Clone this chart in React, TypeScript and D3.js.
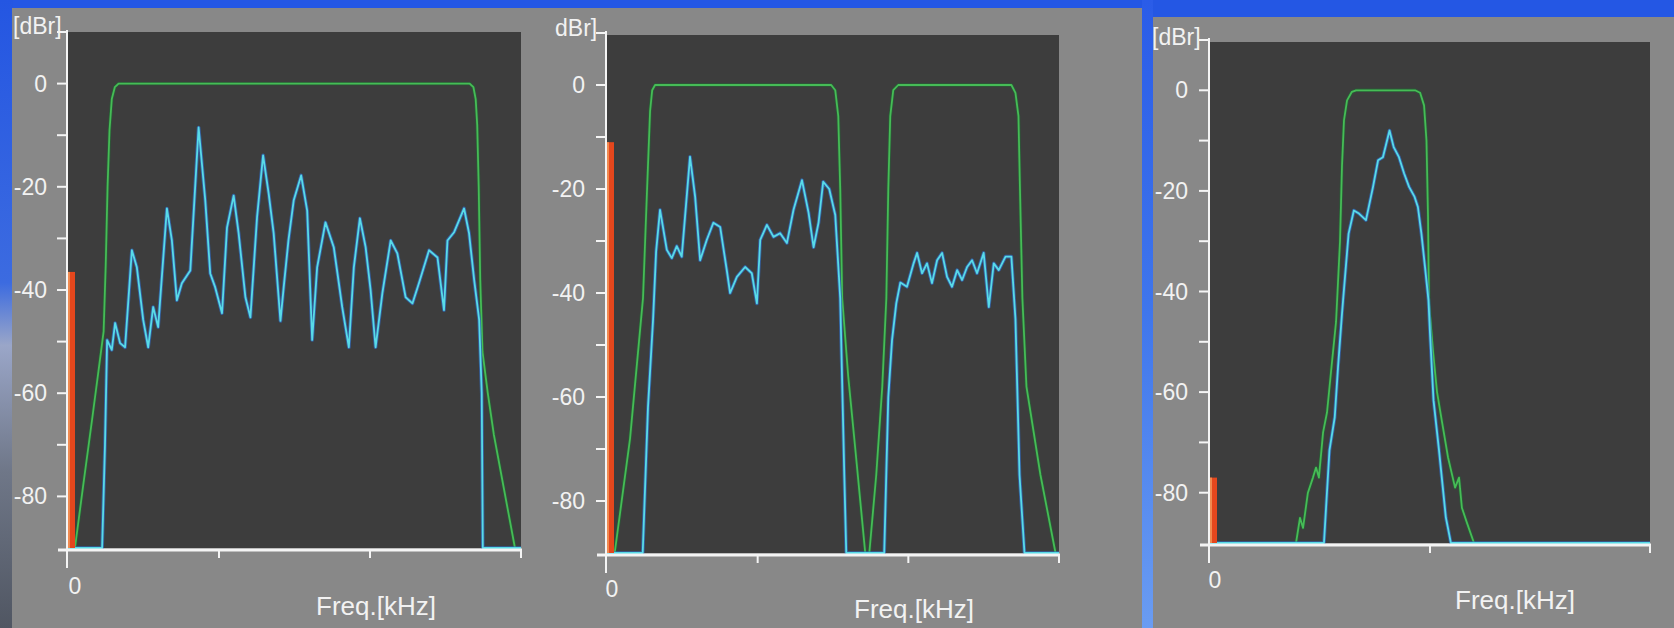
import React from 'react';
import * as d3 from 'd3';

// levels are dBr, frequency in kHz along each panel's own axis
const yTicks = [10, 0, -10, -20, -30, -40, -50, -60, -70, -80];
const yLabels = [0, -20, -40, -60, -80];

// panel 1 - one wide band
const p1Freq = [0, 0.226, 0.245, 0.259, 0.29, 0.312, 0.345, 0.378, 0.423, 0.456, 0.498, 0.531, 0.564, 0.597, 0.655, 0.688, 0.721, 0.754, 0.81, 0.865, 0.909, 0.942, 0.975, 1.02, 1.053, 1.097, 1.13, 1.175, 1.208, 1.252, 1.292, 1.329, 1.362, 1.407, 1.43, 1.46, 1.495, 1.544, 1.584, 1.617, 1.65, 1.705, 1.76, 1.816, 1.86, 1.893, 1.933, 1.971, 2.004, 2.037, 2.082, 2.137, 2.181, 2.236, 2.281, 2.324, 2.391, 2.447, 2.49, 2.513, 2.557, 2.623, 2.656, 2.69, 2.723, 2.74, 2.747, 3.0];
const p1Level = [-90, -90, -70, -49.7, -51.6, -46.4, -50.3, -51.1, -32.3, -35.6, -45.8, -51.1, -43.3, -47.2, -24.2, -30.4, -42, -38.7, -36.2, -8.5, -22.6, -36.8, -39.5, -44.5, -27.9, -21.7, -29, -41.4, -45.3, -25.9, -13.9, -21.3, -29, -46, -39, -30.4, -22.6, -17.8, -24.6, -49.7, -35.6, -26.9, -31.7, -43.3, -51.1, -35.6, -26.1, -31.7, -40, -51.1, -40.6, -30.4, -32.9, -41.4, -42.6, -38.7, -32.3, -33.7, -43.9, -30.4, -28.8, -24.2, -29, -38.1, -45.8, -60, -90, -90];
const p1MaskFreq = [0.046, 0.1, 0.16, 0.205, 0.236, 0.25, 0.262, 0.275, 0.29, 0.31, 0.335, 2.66, 2.685, 2.7, 2.71, 2.72, 2.73, 2.745, 2.78, 2.82, 2.89, 2.96];
const p1MaskLevel = [-90, -78, -65, -55, -48, -35, -20, -9, -3, -0.7, 0, 0, -0.7, -3, -8, -20, -38, -52, -60, -68, -79, -90];
const p1Marker = -36.5;

// panel 2 - two bands
const p2Freq = [0, 0.237, 0.272, 0.306, 0.326, 0.352, 0.397, 0.43, 0.463, 0.496, 0.551, 0.585, 0.618, 0.662, 0.706, 0.751, 0.795, 0.817, 0.862, 0.917, 0.961, 0.995, 1.017, 1.061, 1.105, 1.149, 1.194, 1.238, 1.294, 1.338, 1.371, 1.404, 1.435, 1.475, 1.515, 1.548, 1.575, 1.588, 1.84, 1.867, 1.892, 1.92, 1.947, 1.991, 2.035, 2.058, 2.091, 2.124, 2.157, 2.191, 2.224, 2.257, 2.29, 2.324, 2.357, 2.39, 2.423, 2.456, 2.5, 2.534, 2.567, 2.6, 2.645, 2.684, 2.711, 2.738, 2.771, 3.0];
const p2Level = [-90, -90, -62, -45, -32, -24, -31.7, -33.3, -31, -33, -13.8, -21.5, -33.7, -29.8, -26.5, -27.3, -35.6, -40, -36.9, -35, -36.2, -42, -29.8, -26.9, -29.2, -28.5, -30.4, -24, -18.3, -24.6, -31.2, -26.5, -18.6, -20, -25, -41, -75, -90, -90, -60, -49, -42, -38, -38.8, -34.3, -32.3, -36.2, -34.3, -38.1, -33.7, -32.3, -36.9, -38.8, -35.6, -37.5, -35, -33.7, -36.2, -32.3, -42.7, -34.3, -35.6, -33, -33, -45, -75, -90, -90];
const p2MaskFreq = [0.051, 0.153, 0.239, 0.266, 0.286, 0.3, 0.319, 1.488, 1.515, 1.535, 1.548, 1.561, 1.601, 1.648, 1.714, 1.741, 1.787, 1.827, 1.854, 1.867, 1.88, 1.9, 1.933, 2.684, 2.711, 2.731, 2.741, 2.757, 2.784, 2.877, 2.977];
const p2MaskLevel = [-90, -68, -41, -20, -5, -1, 0, 0, -1, -6, -20, -41, -56, -70, -90, -90, -75, -58, -41, -20, -6, -1, 0, 0, -1.5, -6, -20, -41, -58, -75, -90];
const p2Marker = -11;

// panel 3 - narrow band
const p3Freq = [0, 0.518, 0.543, 0.567, 0.582, 0.599, 0.605, 0.63, 0.654, 0.677, 0.709, 0.741, 0.764, 0.786, 0.816, 0.835, 0.859, 0.882, 0.905, 0.93, 0.945, 0.961, 0.977, 0.993, 1.0, 1.016, 1.041, 1.072, 1.095, 2.0];
const p3Level = [-90, -90, -71.6, -65, -55, -45, -41.7, -28.5, -23.9, -24.5, -25.8, -19.2, -13.9, -13.3, -8, -11.3, -13.3, -16.5, -19.2, -21.2, -23.2, -28.5, -35, -41.7, -48.3, -61.6, -71.6, -84.9, -90, -90];
const p3MaskFreq = [0.391, 0.409, 0.423, 0.445, 0.468, 0.482, 0.495, 0.514, 0.532, 0.55, 0.573, 0.591, 0.6, 0.609, 0.623, 0.645, 0.664, 0.932, 0.955, 0.973, 0.984, 0.991, 0.995, 1.014, 1.032, 1.055, 1.082, 1.114, 1.132, 1.145, 1.168, 1.2];
const p3MaskLevel = [-90, -85, -87, -80, -77, -75, -77, -68, -64, -56, -46, -30, -15, -6, -2, -0.3, 0, 0, -0.5, -3, -10, -25, -42, -52, -60, -66, -73, -79, -77, -83, -86, -90];
const p3Marker = -77;

const FONT = '"Liberation Sans", Arial, sans-serif';
const TXT = '#f2f2f2';

type Cfg = {
  left: number; right: number; top: number; scaleTop: number; bottom: number;
  xMax: number; xTicks: number[];
  freq: number[]; level: number[]; maskFreq: number[]; maskLevel: number[]; marker: number;
  unit: string; unitX: number; unitY: number; labelRight: number;
  zeroX: number; zeroY: number; freqX: number; freqY: number;
};

function Panel({ c }: { c: Cfg }) {
  const x = d3.scaleLinear().domain([0, c.xMax]).range([c.left, c.right]);
  const y = d3.scaleLinear().domain([-90, 10]).range([c.bottom, c.scaleTop]);
  const line = d3.line<[number, number]>().x(d => x(d[0])).y(d => y(d[1]));
  const trace = line(d3.zip(c.freq, c.level) as [number, number][]) || '';
  const mask = line(d3.zip(c.maskFreq, c.maskLevel) as [number, number][]) || '';
  const ax = c.left - 1;

  return (
    <g>
      <rect x={c.left} y={c.top} width={c.right - c.left} height={c.bottom - c.top} fill="#3d3d3d" />
      <path d={mask} fill="none" stroke="#1f6e34" strokeWidth={3.4} strokeLinejoin="round" opacity={0.6} />
      <path d={mask} fill="none" stroke="#46bc56" strokeWidth={1.8} strokeLinejoin="round" />
      <path d={trace} fill="none" stroke="#2f6cc6" strokeWidth={3.6} strokeLinejoin="round" opacity={0.7} />
      <path d={trace} fill="none" stroke="#58dbe8" strokeWidth={1.8} strokeLinejoin="round" />
      <rect x={c.left} y={y(c.marker)} width={7} height={c.bottom - y(c.marker)} fill="#e5471d" />
      <rect x={c.left} y={y(c.marker)} width={2} height={c.bottom - y(c.marker)} fill="#f08a50" />

      {/* axes */}
      <line x1={c.left - 10} x2={c.right + 1} y1={c.bottom + 2} y2={c.bottom + 2} stroke="#f4f4f4" strokeWidth={3} />
      <line x1={ax} x2={ax} y1={c.scaleTop - 2} y2={c.bottom + 20} stroke="#f4f4f4" strokeWidth={2} />
      {yTicks.map(t => (
        <line key={t} x1={c.left - 11} x2={ax} y1={y(t)} y2={y(t)} stroke="#f4f4f4" strokeWidth={2} />
      ))}
      {c.xTicks.slice(1).map(t => (
        <line key={t} x1={x(t)} x2={x(t)} y1={c.bottom + 2} y2={c.bottom + 10} stroke="#f4f4f4" strokeWidth={2} />
      ))}
      {yLabels.map(t => (
        <text key={t} x={c.labelRight} y={y(t) + 8} fill={TXT} fontSize={23} fontFamily={FONT} textAnchor="end">
          {t === 0 ? '0' : `-${Math.abs(t)}`}
        </text>
      ))}
      <text x={c.unitX} y={c.unitY} fill={TXT} fontSize={23} fontFamily={FONT}>{c.unit}</text>
      <text x={c.zeroX} y={c.zeroY} fill={TXT} fontSize={23} fontFamily={FONT} textAnchor="middle">0</text>
      <text x={c.freqX} y={c.freqY} fill={TXT} fontSize={26} fontFamily={FONT}>Freq.[kHz]</text>
    </g>
  );
}

const panels: Cfg[] = [
  {
    left: 68, right: 521, top: 32, scaleTop: 32, bottom: 548, xMax: 3, xTicks: [0, 1, 2, 3],
    freq: p1Freq, level: p1Level, maskFreq: p1MaskFreq, maskLevel: p1MaskLevel, marker: p1Marker,
    unit: '[dBr]', unitX: 13, unitY: 34, labelRight: 47, zeroX: 75, zeroY: 594, freqX: 316, freqY: 615,
  },
  {
    left: 607, right: 1059, top: 35, scaleTop: 33, bottom: 553, xMax: 3, xTicks: [0, 1, 2, 3],
    freq: p2Freq, level: p2Level, maskFreq: p2MaskFreq, maskLevel: p2MaskLevel, marker: p2Marker,
    unit: 'dBr]', unitX: 555, unitY: 36, labelRight: 585, zeroX: 612, zeroY: 597, freqX: 854, freqY: 618,
  },
  {
    left: 1210, right: 1650, top: 42, scaleTop: 40, bottom: 543, xMax: 2, xTicks: [0, 1, 2],
    freq: p3Freq, level: p3Level, maskFreq: p3MaskFreq, maskLevel: p3MaskLevel, marker: p3Marker,
    unit: '[dBr]', unitX: 1152, unitY: 45, labelRight: 1188, zeroX: 1215, zeroY: 588, freqX: 1455, freqY: 609,
  },
];

export default function App() {
  return (
    <svg width={1674} height={628} style={{ position: 'absolute', left: 0, top: 0, display: 'block' }}>
      <defs>
        <linearGradient id="edge" x1="0" x2="0" y1="0" y2="1">
          <stop offset="0" stopColor="#2456e2" />
          <stop offset="0.45" stopColor="#3c6be0" />
          <stop offset="0.55" stopColor="#9aa6c8" />
          <stop offset="0.75" stopColor="#6f7788" />
          <stop offset="1" stopColor="#505662" />
        </linearGradient>
        <linearGradient id="gap" x1="0" x2="0" y1="0" y2="1">
          <stop offset="0" stopColor="#2a5ce8" />
          <stop offset="0.5" stopColor="#3f76ec" />
          <stop offset="1" stopColor="#6a9cf2" />
        </linearGradient>
      </defs>
      <rect width={1674} height={628} fill="#2457e4" />
      <rect x={0} y={0} width={13} height={628} fill="url(#edge)" />
      <rect x={1142} y={0} width={11} height={628} fill="url(#gap)" />
      <rect x={12} y={8} width={1130} height={620} fill="#888888" />
      <rect x={1153} y={17} width={521} height={611} fill="#888888" />
      {panels.map((c, i) => <Panel key={i} c={c} />)}
    </svg>
  );
}
